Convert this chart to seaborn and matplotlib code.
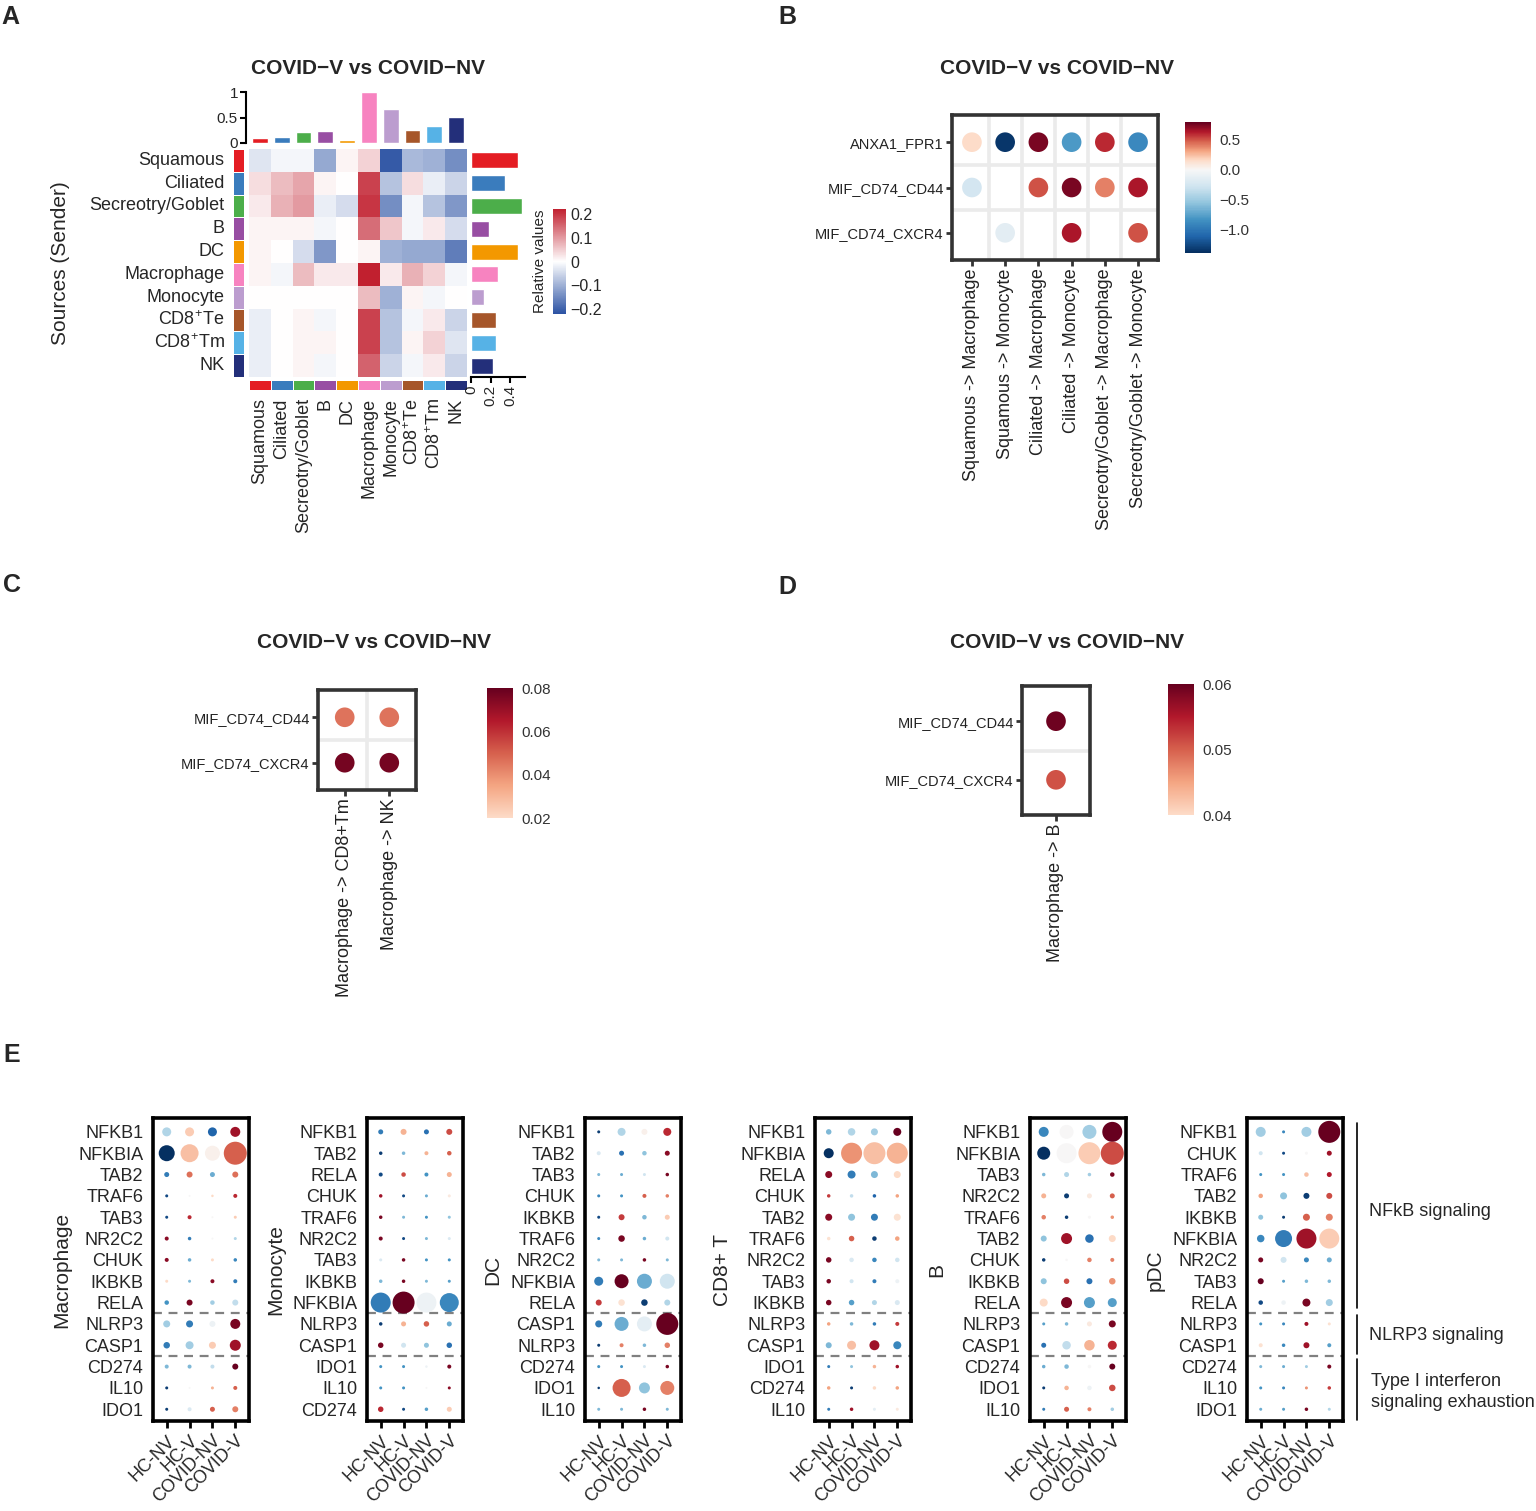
import numpy as np
import pandas as pd
import matplotlib
matplotlib.use("Agg")
import matplotlib.pyplot as plt
import seaborn as sns
from matplotlib.colors import LinearSegmentedColormap, ListedColormap, Normalize, TwoSlopeNorm
from matplotlib.cm import ScalarMappable

sns.set_theme(style="white")
plt.rcParams["font.family"] = ["Liberation Sans", "DejaVu Sans"]
plt.rcParams["mathtext.fontset"] = "custom"
plt.rcParams["mathtext.rm"] = "Liberation Sans"
plt.rcParams["mathtext.it"] = "Liberation Sans:italic"
plt.rcParams["mathtext.bf"] = "Liberation Sans:bold"

# ---------------------------------------------------------------- data
# Panel A
cell_types = ["Squamous", "Ciliated", "Secreotry/Goblet", "B", "DC", "Macrophage",
              "Monocyte", "CD8$^{+}$Te", "CD8$^{+}$Tm", "NK"]
type_colors = ["#e41d23", "#3a7cbd", "#4cae4a", "#984ea3", "#f39800", "#f783c0",
               "#bc9dcf", "#a6562a", "#56b2e6", "#232f7a"]
top_strength = [0.09, 0.12, 0.22, 0.24, 0.065, 1.0, 0.67, 0.25, 0.33, 0.51]
right_strength = [0.48, 0.35, 0.52, 0.18, 0.48, 0.28, 0.13, 0.25, 0.25, 0.22]
rel_values = [
    [-0.03, -0.01, -0.01, -0.10, 0.01, 0.04, -0.19, -0.08, -0.09, -0.13],
    [0.03, 0.06, 0.08, 0.01, 0.00, 0.17, -0.07, 0.03, -0.02, -0.05],
    [0.02, 0.07, 0.09, -0.02, -0.04, 0.18, -0.13, -0.01, -0.07, -0.12],
    [0.01, 0.01, 0.01, -0.01, 0.00, 0.13, 0.05, -0.01, 0.02, -0.04],
    [0.01, 0.00, -0.04, -0.12, 0.00, 0.01, -0.09, -0.10, -0.10, -0.15],
    [0.01, -0.01, 0.06, 0.02, 0.02, 0.20, 0.02, 0.07, 0.04, -0.01],
    [0.00, 0.00, 0.00, 0.00, 0.00, 0.06, -0.09, 0.01, -0.01, 0.00],
    [-0.02, 0.00, 0.01, -0.01, 0.00, 0.17, -0.07, -0.01, 0.02, -0.05],
    [-0.02, 0.00, 0.01, 0.01, 0.00, 0.17, -0.07, 0.01, 0.04, -0.03],
    [-0.02, 0.00, 0.01, -0.01, 0.00, 0.14, -0.05, -0.01, 0.02, -0.05],
]

# Panel B
b_pairs = ["Squamous -> Macrophage", "Squamous -> Monocyte", "Ciliated -> Macrophage",
           "Ciliated -> Monocyte", "Secreotry/Goblet -> Macrophage", "Secreotry/Goblet -> Monocyte"]
b_lr = ["ANXA1_FPR1", "MIF_CD74_CD44", "MIF_CD74_CXCR4"]
b_values = [
    [0.15, -1.35, 0.75, -0.8, 0.6, -0.9],
    [-0.25, np.nan, 0.5, 0.75, 0.4, 0.65],
    [np.nan, -0.15, np.nan, 0.65, np.nan, 0.5],
]

# Panel C
c_pairs = ["Macrophage -> CD8+Tm", "Macrophage -> NK"]
c_lr = ["MIF_CD74_CD44", "MIF_CD74_CXCR4"]
c_values = [[0.046, 0.046], [0.077, 0.077]]

# Panel D
d_pairs = ["Macrophage -> B"]
d_lr = ["MIF_CD74_CD44", "MIF_CD74_CXCR4"]
d_values = [[0.0595], [0.051]]

# Panel E
groups = ["HC-NV", "HC-V", "COVID-NV", "COVID-V"]

genes_mac = ["NFKB1", "NFKBIA", "TAB2", "TRAF6", "TAB3", "NR2C2", "CHUK", "IKBKB", "RELA",
             "NLRP3", "CASP1", "CD274", "IL10", "IDO1"]
col_mac = [[-0.3, 0.25, -0.8, 0.85], [-1.0, 0.3, 0.05, 0.6], [-0.7, 0.55, -0.5, 0.55],
           [-0.9, 0.0, 0.2, 0.75], [-0.9, 0.75, 0.0, 0.25], [0.9, -0.7, 0.0, -0.3],
           [0.9, -0.5, 0.2, -0.65], [0.2, -0.45, 0.9, -0.7], [-0.6, 0.95, -0.35, -0.25],
           [-0.35, -0.7, -0.05, 0.95], [-0.7, -0.35, 0.25, 0.85], [-0.45, -0.45, -0.25, 1.0],
           [-0.95, 0.0, 0.35, 0.6], [-0.95, -0.15, 0.6, 0.5]]
size_mac = [[9, 9, 9, 10], [16, 18, 15, 23], [5, 6, 5, 6], [3, 2, 2.5, 4], [3, 4, 2, 3],
            [4, 3.5, 2, 3], [4, 3.5, 3, 3.5], [3, 3, 4, 4], [4.5, 6, 4.5, 6], [7, 7, 6, 10],
            [6.5, 8, 7, 11], [4, 4, 4, 6], [3, 2, 3, 4], [3, 4, 5, 6]]

genes_mono = ["NFKB1", "TAB2", "RELA", "CHUK", "TRAF6", "NR2C2", "TAB3", "IKBKB", "NFKBIA",
              "NLRP3", "CASP1", "IDO1", "IL10", "CD274"]
col_mono = [[-0.7, 0.35, -0.75, 0.65], [-0.95, -0.45, 0.35, 0.6], [-0.9, 0.65, -0.6, 0.35],
            [0.85, -0.9, -0.5, 0.1], [0.95, -0.45, -0.6, -0.4], [0.95, -0.9, -0.45, -0.15],
            [-0.15, 0.95, -0.6, -0.6], [-0.45, 0.95, -0.45, -0.55], [-0.7, 1.0, -0.05, -0.65],
            [-0.95, 0.35, 0.6, -0.5], [0.95, -0.2, -0.4, -0.75], [-0.6, -0.6, -0.05, 0.95],
            [-0.6, -0.6, 0.0, 0.9], [0.75, -0.9, -0.55, 0.25]]
size_mono = [[5, 6, 5, 6], [3.5, 3.5, 4, 4.5], [4, 4.5, 4, 5], [3.5, 3, 3, 3], [3.5, 3, 3, 3],
             [4, 3, 3, 3], [3, 3.5, 3, 3], [3.5, 3.5, 3, 3], [20, 22, 20, 19], [3.5, 5, 5.5, 5],
             [5.5, 5, 5, 5.5], [3, 3, 2.5, 4], [3, 3, 2, 3], [5.5, 3, 3.5, 5]]

genes_dc = ["NFKB1", "TAB2", "TAB3", "CHUK", "IKBKB", "TRAF6", "NR2C2", "NFKBIA", "RELA",
            "CASP1", "NLRP3", "CD274", "IDO1", "IL10"]
col_dc = [[-0.95, -0.3, 0.05, 0.75], [-0.15, -0.75, -0.4, 0.9], [-0.45, -0.5, -0.2, 0.95],
          [-0.65, -0.6, 0.6, 0.5], [-0.9, 0.7, -0.45, 0.25], [-0.65, 0.95, -0.5, -0.2],
          [-0.45, -0.45, 0.95, -0.45], [-0.7, 1.0, -0.5, -0.2], [0.7, 0.15, -0.95, -0.3],
          [-0.7, -0.5, -0.1, 1.0], [-0.95, 0.5, -0.45, 0.5], [-0.6, -0.6, -0.15, 0.95],
          [-0.95, 0.6, -0.4, 0.5], [-0.45, -0.45, 0.95, -0.45]]
size_dc = [[3, 8, 6, 8], [4, 5, 4.5, 5], [3, 3, 3, 3.5], [3, 3, 4, 3.5], [3, 6, 4.5, 5],
           [3, 6.5, 3.5, 4], [3, 3, 3.5, 3], [9, 14, 15, 15], [6, 6.5, 6.5, 6], [7, 14, 15, 22],
           [3, 4, 3.5, 5.5], [3, 3, 3, 3.5], [2.5, 18, 11, 14], [3, 3, 3.5, 3]]

genes_cd8 = ["NFKB1", "NFKBIA", "RELA", "CHUK", "TAB2", "TRAF6", "NR2C2", "TAB3", "IKBKB",
             "NLRP3", "CASP1", "IDO1", "CD274", "IL10"]
col_cd8 = [[-0.45, -0.3, -0.35, 1.0], [-1.0, 0.45, 0.3, 0.35], [0.9, -0.7, -0.45, 0.2],
           [0.7, -0.25, -0.8, 0.4], [0.9, -0.4, -0.7, 0.15], [0.15, 0.6, -0.95, 0.4],
           [0.95, -0.15, -0.65, -0.2], [0.95, -0.2, -0.7, -0.05], [0.95, -0.55, -0.3, -0.15],
           [0.4, -0.45, -0.7, 0.7], [-0.45, 0.3, 0.85, -0.65], [-0.7, -0.4, 0.35, 0.85],
           [0.4, -0.95, 0.2, 0.4], [-0.7, 0.85, -0.1, 0.1]]
size_cd8 = [[5.5, 7.5, 7, 8], [10, 21, 22, 21], [7, 8, 7, 7], [3.5, 3.5, 3.5, 3.5], [7, 7, 7, 7],
            [3.5, 5.5, 4.5, 4.5], [5.5, 4.5, 4.5, 4.5], [4.5, 4, 4, 4], [5.5, 5.5, 5, 5],
            [3.5, 3.5, 3.5, 4], [6, 9, 10, 8], [3, 3, 3.5, 3.5], [3.5, 3, 3.5, 3.5], [3, 3.5, 3, 3]]

genes_b = ["NFKB1", "NFKBIA", "TAB3", "NR2C2", "TRAF6", "TAB2", "CHUK", "IKBKB", "RELA",
           "NLRP3", "CASP1", "CD274", "IDO1", "IL10"]
col_b = [[-0.65, 0.0, -0.35, 1.0], [-1.0, 0.0, 0.25, 0.65], [-0.45, -0.3, -0.35, 0.95],
         [0.35, -0.95, 0.1, 0.6], [0.5, -0.95, 0.0, 0.45], [-0.4, 0.85, -0.75, 0.2],
         [-0.95, 0.0, 0.5, 0.5], [-0.4, 0.65, -0.75, 0.45], [0.2, 0.95, -0.55, -0.55],
         [-0.55, -0.45, 0.1, 0.95], [-0.75, -0.25, 0.35, 0.75], [-0.5, -0.45, 0.0, 1.0],
         [-0.95, 0.35, -0.05, 0.65], [-0.7, 0.6, 0.5, -0.35]]
size_b = [[10, 14, 14, 20], [13, 20, 22, 23], [3.5, 5, 3.5, 4.5], [5, 5, 5, 5], [4.5, 3.5, 3, 3.5],
          [6, 11, 8.5, 7], [3.5, 2.5, 4.5, 4], [6, 5.5, 6, 6.5], [8, 11, 11, 9], [3, 3.5, 5, 7],
          [5, 8.5, 10.5, 9], [3.5, 4.5, 3.5, 6], [3, 4.5, 4.5, 6.5], [3, 5, 4, 3.5]]

genes_pdc = ["NFKB1", "CHUK", "TRAF6", "TAB2", "IKBKB", "NFKBIA", "NR2C2", "TAB3", "RELA",
             "NLRP3", "CASP1", "CD274", "IL10", "IDO1"]
col_pdc = [[-0.35, -0.65, -0.35, 1.0], [-0.2, -0.9, 0.0, 0.85], [-0.6, -0.6, 0.3, 0.8],
           [0.4, -0.4, -0.95, 0.65], [-0.4, -0.95, 0.6, 0.5], [-0.65, -0.7, 0.85, 0.25],
           [0.95, -0.2, -0.65, -0.5], [1.0, -0.55, -0.45, -0.45], [-0.9, -0.05, 0.95, -0.35],
           [-0.6, -0.65, 0.85, 0.15], [0.15, -0.65, 0.85, -0.55], [-0.45, -0.5, -0.35, 0.95],
           [-0.6, -0.65, 0.45, 0.7], [-0.5, -0.55, 0.95, -0.3]]
size_pdc = [[10, 3, 10, 22], [4, 3, 3, 5], [3, 3, 4.5, 5], [4.5, 7, 6, 6], [5, 3, 7, 7],
            [7.5, 17, 20, 20], [5, 6, 5, 5], [6, 3, 3.5, 3.5], [4.5, 4.5, 8, 7], [3, 3, 4, 3],
            [4, 3.5, 6, 4], [3, 3, 3, 4], [3, 3, 3, 3.5], [3, 3, 3.5, 3]]

# ---------------------------------------------------------------- figure helpers
W, H = 1536, 1511
fig = plt.figure(figsize=(W / 100, H / 100), dpi=100)
fig.patch.set_facecolor("white")


def add_ax(x0, y0, x1, y1):
    return fig.add_axes([x0 / W, 1 - y1 / H, (x1 - x0) / W, (y1 - y0) / H])


def white_ticks_cbar(cb, ticks, labels, size=11):
    cb.outline.set_visible(False)
    cb.set_ticks(ticks)
    cb.set_ticklabels(labels)
    cb.ax.tick_params(axis="y", which="both", direction="in", length=5, width=1.2,
                      color="white", left=True, right=True, labelsize=size, pad=6,
                      labelcolor="#333333")


# ---------------------------------------------------------------- Panel A
cmapA = LinearSegmentedColormap.from_list("bwrA", ["#2b52a3", "#ffffff", "#c1202f"])
plain_names = ["Squamous", "Ciliated", "Secreotry/Goblet", "B", "DC", "Macrophage",
               "Monocyte", "CD8Te", "CD8Tm", "NK"]
pal = dict(zip(plain_names, type_colors))
bar_df = pd.DataFrame({"type": plain_names, "top": top_strength, "right": right_strength})

HT, HB = 149, 377
axH = add_ax(249, HT, 467, HB)
hm_df = pd.DataFrame(rel_values, index=plain_names, columns=plain_names)
sns.heatmap(hm_df, ax=axH, cmap=cmapA, vmin=-0.2, vmax=0.2, cbar=False,
            xticklabels=False, yticklabels=False)

strip_cmap = ListedColormap(type_colors)
axL = add_ax(233, HT, 244, HB)
sns.heatmap(pd.DataFrame(np.arange(10).reshape(-1, 1)), ax=axL, cmap=strip_cmap, cbar=False,
            linewidths=0.6, linecolor="white", xticklabels=False, yticklabels=cell_types)
axL.tick_params(axis="y", length=0, pad=6, labelsize=13)
plt.setp(axL.get_yticklabels(), rotation=0)

axS = add_ax(249, 380, 467, 390)
sns.heatmap(pd.DataFrame(np.arange(10).reshape(1, -1)), ax=axS, cmap=strip_cmap, cbar=False,
            linewidths=0.6, linecolor="white", xticklabels=cell_types, yticklabels=False)
axS.tick_params(axis="x", length=0, pad=6, labelsize=13)
plt.setp(axS.get_xticklabels(), rotation=90)

axT = add_ax(249, 92, 467, 143)
sns.barplot(data=bar_df, x="type", y="top", hue="type", palette=pal, legend=False,
            order=plain_names, ax=axT, width=0.72, saturation=1)
axT.set_xlim(-0.5, 9.5)
axT.set_ylim(0, 1)
for s in ["top", "right", "bottom"]:
    axT.spines[s].set_visible(False)
axT.spines["left"].set_color("black")
axT.spines["left"].set_linewidth(1.5)
axT.spines["left"].set_position(("outward", 2))
axT.set_xticks([])
axT.set_yticks([0, 0.5, 1])
axT.set_yticklabels(["0", "0.5", "1"])
axT.tick_params(axis="y", length=4, width=1.5, color="black", labelsize=11, pad=2, left=True)
axT.set_xlabel("")
axT.set_ylabel("")

axR = add_ax(471, HT, 525, HB)
sns.barplot(data=bar_df, y="type", x="right", hue="type", palette=pal, legend=False,
            order=plain_names, orient="h", ax=axR, width=0.7, saturation=1)
axR.set_xlim(0, 0.55)
axR.set_ylim(9.5, -0.5)
for s in ["top", "right", "left"]:
    axR.spines[s].set_visible(False)
axR.spines["bottom"].set_color("black")
axR.spines["bottom"].set_linewidth(1.5)
axR.set_yticks([])
axR.set_xticks([0, 0.2, 0.4])
axR.set_xticklabels(["0", "0.2", "0.4"], rotation=90)
axR.tick_params(axis="x", length=4, width=1.5, color="black", labelsize=11, pad=2, bottom=True)
axR.set_xlabel("")
axR.set_ylabel("")

caxA = add_ax(553, 209, 566, 314)
cbA = fig.colorbar(ScalarMappable(Normalize(-0.22, 0.22), cmapA), cax=caxA)
cbA.outline.set_visible(False)
cbA.set_ticks([-0.2, -0.1, 0, 0.1, 0.2])
cbA.set_ticklabels(["\u22120.2", "\u22120.1", "0", "0.1", "0.2"])
cbA.ax.tick_params(length=0, labelsize=11.5, pad=3)
cbA.ax.yaxis.set_label_position("left")
cbA.set_label("Relative values", fontsize=11, labelpad=4)

# ---------------------------------------------------------------- Panel B
base = plt.get_cmap("RdBu_r")
bmin, bmax = -1.4, 0.8
tsn = TwoSlopeNorm(vmin=bmin, vcenter=0, vmax=bmax)
samples = np.linspace(bmin, bmax, 256)
cmapB = ListedColormap(base(tsn(samples)))
normB = Normalize(bmin, bmax)


def bubble_panel(ax, values, xlabels, ylabels, cmap, norm, xfs=13, yfs=10.5):
    rows = []
    for i in range(len(ylabels)):
        for j in range(len(xlabels)):
            v = values[i][j]
            if not np.isnan(v):
                rows.append(dict(xi=j, yi=i, val=v))
    df = pd.DataFrame(rows)
    ax.set_axisbelow(True)
    nx, ny = len(xlabels), len(ylabels)
    for k in range(1, nx):
        ax.axvline(k - 0.5, color="#ebebeb", lw=2.6, zorder=0)
    for k in range(1, ny):
        ax.axhline(k - 0.5, color="#ebebeb", lw=2.6, zorder=0)
    sns.scatterplot(data=df, x="xi", y="yi", hue="val", palette=cmap, hue_norm=norm,
                    s=200, linewidth=0, legend=False, ax=ax, zorder=3)
    ax.set_xlim(-0.6, nx - 0.4)
    ax.set_ylim(ny - 0.4, -0.6)
    ax.set_xticks(range(nx))
    ax.set_xticklabels(xlabels, rotation=90, fontsize=xfs, color="#222222")
    ax.set_yticks(range(ny))
    ax.set_yticklabels(ylabels, fontsize=yfs, color="#222222")
    ax.tick_params(axis="both", length=4, width=2, color="#333333", bottom=True, left=True, pad=2)
    ax.set_xlabel("")
    ax.set_ylabel("")
    for s in ax.spines.values():
        s.set_visible(True)
        s.set_linewidth(2.6)
        s.set_color("#333333")


axBp = add_ax(952, 115, 1158, 260)
bubble_panel(axBp, b_values, b_pairs, b_lr, cmapB, normB)
caxB = add_ax(1185, 122, 1211, 253)
cbB = fig.colorbar(ScalarMappable(normB, cmapB), cax=caxB)
white_ticks_cbar(cbB, [-1.0, -0.5, 0.0, 0.5], ["\u22121.0", "\u22120.5", "0.0", "0.5"])

# ---------------------------------------------------------------- Panels C, D
cmapCD = LinearSegmentedColormap.from_list("reds", ["#fddbc7", "#f4a582", "#d6604d", "#b2182b", "#67001f"])
axC = add_ax(318, 690, 416, 790)
normC = Normalize(0.02, 0.08)
bubble_panel(axC, c_values, c_pairs, c_lr, cmapCD, normC)
caxC = add_ax(487, 688, 513, 818)
cbC = fig.colorbar(ScalarMappable(normC, cmapCD), cax=caxC)
white_ticks_cbar(cbC, [0.02, 0.04, 0.06, 0.08], ["0.02", "0.04", "0.06", "0.08"])

axD = add_ax(1022, 686, 1090, 815)
normD = Normalize(0.04, 0.06)
bubble_panel(axD, d_values, d_pairs, d_lr, cmapCD, normD)
caxD = add_ax(1168, 684, 1194, 815)
cbD = fig.colorbar(ScalarMappable(normD, cmapCD), cax=caxD)
white_ticks_cbar(cbD, [0.04, 0.05, 0.06], ["0.04", "0.05", "0.06"])

# ---------------------------------------------------------------- Panel E
K = 0.72 ** 2
amin, amax = 1.0, 625.0
e_panels = [
    ("Macrophage", genes_mac, col_mac, size_mac, 153, 62),
    ("Monocyte", genes_mono, col_mono, size_mono, 367, 276),
    ("DC", genes_dc, col_dc, size_dc, 585, 493),
    ("CD8+ T", genes_cd8, col_cd8, size_cd8, 815, 722),
    ("B", genes_b, col_b, size_b, 1030, 937),
    ("pDC", genes_pdc, col_pdc, size_pdc, 1247, 1155),
]
e_axes = []
for name, genes, cols, sizes, x0, lab_x in e_panels:
    ax = add_ax(x0, 1118, x0 + 96, 1421)
    rows = []
    for i, g in enumerate(genes):
        for j, grp in enumerate(groups):
            rows.append(dict(gi=i, ci=j, val=cols[i][j], area=sizes[i][j] ** 2))
    df = pd.DataFrame(rows)
    sns.scatterplot(data=df, x="ci", y="gi", hue="val", palette="RdBu_r", hue_norm=(-1, 1),
                    size="area", sizes=(K * amin, K * amax), size_norm=(amin, amax),
                    linewidth=0, legend=False, ax=ax, zorder=3)
    ax.set_xlim(-0.6, 3.6)
    ax.set_ylim(13.55, -0.65)
    for yl in (8.5, 10.5):
        ax.axhline(yl, color="#808080", lw=1.6, ls=(0, (4, 3)), zorder=1)
    ax.set_xticks(range(4))
    ax.set_xticklabels(groups, rotation=45, ha="right", rotation_mode="anchor", fontsize=13)
    ax.set_yticks(range(len(genes)))
    ax.set_yticklabels(genes, fontsize=13)
    ax.tick_params(axis="x", length=5, width=2, color="black", bottom=True, pad=3)
    ax.tick_params(axis="y", length=0, pad=7)
    ax.set_xlabel("")
    ax.set_ylabel("")
    for s in ax.spines.values():
        s.set_visible(True)
        s.set_linewidth(2.6)
        s.set_color("black")
    e_axes.append((ax, name, lab_x))

# ---------------------------------------------------------------- overlay text
ov = fig.add_axes([0, 0, 1, 1], zorder=10)
ov.set_xlim(0, W)
ov.set_ylim(H, 0)
ov.axis("off")
ov.patch.set_alpha(0)

for letter, x, y in [("A", 10, 17), ("B", 787, 17), ("C", 12, 585), ("D", 787, 587), ("E", 12, 1055)]:
    ov.text(x, y, letter, fontsize=18, fontweight="bold", ha="center", va="center")

title = "COVID\u2212V vs COVID\u2212NV"
for x, y in [(368, 68), (1057, 69), (374, 643), (1067, 643)]:
    ov.text(x, y, title, fontsize=15, fontweight="bold", ha="center", va="center")

ov.text(60, 263, "Sources (Sender)", fontsize=15, rotation=90, ha="center", va="center")

for ax, name, lab_x in e_axes:
    ov.text(lab_x, 1270, name, fontsize=15, rotation=90, ha="center", va="center")

ov.plot([1357, 1357], [1123, 1308], color="black", lw=1.2)
ov.plot([1357, 1357], [1315, 1354], color="black", lw=1.2)
ov.plot([1357, 1357], [1359, 1420], color="black", lw=1.2)
ov.text(1369, 1212, "NFkB signaling", fontsize=13, ha="left", va="center")
ov.text(1369, 1336, "NLRP3 signaling", fontsize=13, ha="left", va="center")
ov.text(1371, 1392, "Type I interferon\nsignaling exhaustion", fontsize=13, ha="left",
        va="center", linespacing=1.25)

fig.savefig("out.png", dpi=100, facecolor="white")
